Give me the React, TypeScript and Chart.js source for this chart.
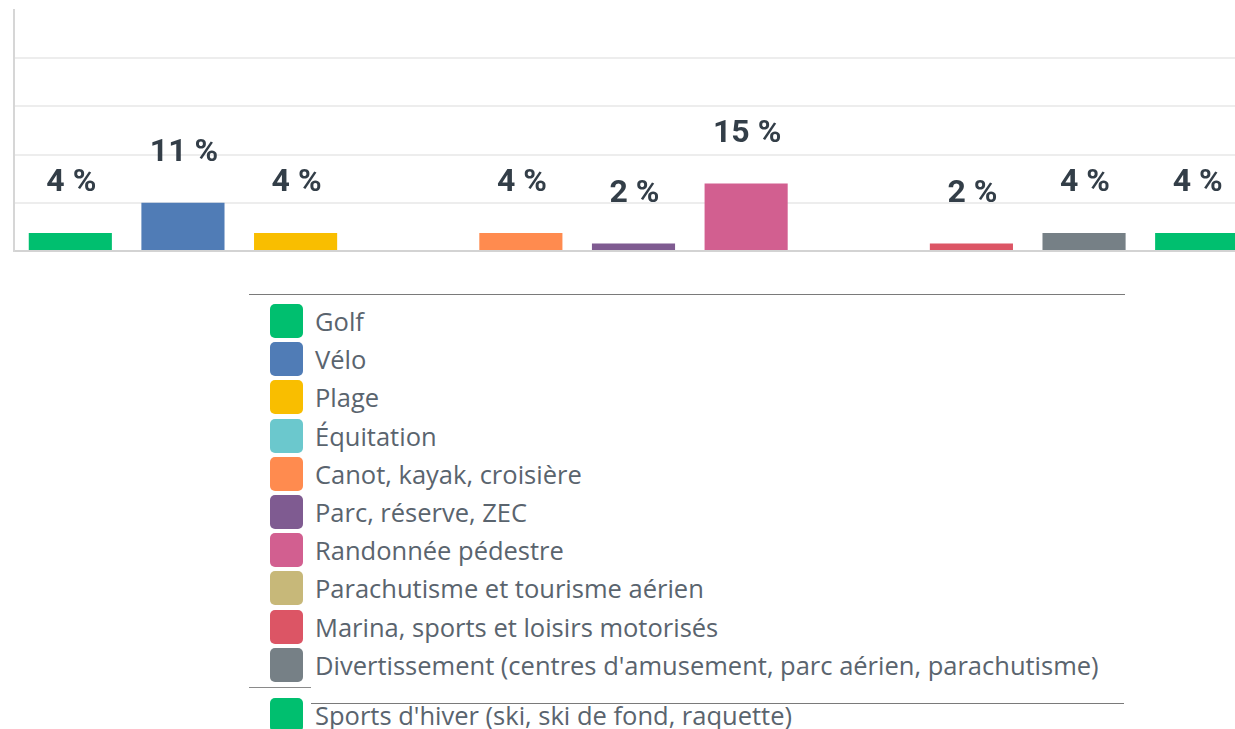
import React, { useEffect, useRef } from "react";
import { Chart, registerables } from "chart.js";

Chart.register(...registerables);

const categories = [
  "Golf",
  "Vélo",
  "Plage",
  "Équitation",
  "Canot, kayak, croisière",
  "Parc, réserve, ZEC",
  "Randonnée pédestre",
  "Parachutisme et tourisme aérien",
  "Marina, sports et loisirs motorisés",
  "Divertissement (centres d'amusement, parc aérien, parachutisme)",
  "Sports d'hiver (ski, ski de fond, raquette)",
];

const values = [4.1, 11, 4.1, 0, 4.1, 1.7, 15.4, 0, 1.7, 4.1, 4.1];

const colors = [
  "#00bf6f",
  "#507cb6",
  "#f9be00",
  "#6bc8cd",
  "#ff8b4f",
  "#7f5b91",
  "#d25f90",
  "#c7b879",
  "#dc5565",
  "#768086",
  "#00bf6f",
];

const yMax = 55;
const yStep = 11;

const formatLabel = (v: number) => `${Math.round(v)} %`;

const labelPlugin = {
  id: "barLabels",
  afterDatasetsDraw(chart: any) {
    const ctx = chart.ctx;
    const meta = chart.getDatasetMeta(0);
    ctx.save();
    ctx.font = "700 32px Roboto, 'Open Sans', sans-serif";
    ctx.fillStyle = "#333e48";
    ctx.textAlign = "center";
    ctx.textBaseline = "alphabetic";
    meta.data.forEach((bar: any, i: number) => {
      const v = values[i];
      if (!v) return;
      ctx.fillText(formatLabel(v), bar.x + 1, bar.y - 42);
    });
    ctx.restore();
  },
};

function BarChart() {
  const ref = useRef<HTMLCanvasElement>(null);
  useEffect(() => {
    if (!ref.current) return;
    const chart = new Chart(ref.current, {
      type: "bar",
      data: {
        labels: categories,
        datasets: [
          {
            data: values,
            backgroundColor: colors,
            borderWidth: 0,
            categoryPercentage: 0.82,
            barPercentage: 0.9,
          },
        ],
      },
      options: {
        animation: false,
        responsive: false,
        maintainAspectRatio: false,
        layout: { padding: { left: 14, right: 7, top: 10, bottom: 1 } },
        plugins: { legend: { display: false }, tooltip: { enabled: false } },
        scales: {
          x: {
            ticks: { display: false },
            grid: { display: false, drawTicks: false },
            border: { display: true, color: "#d3d3d3", width: 2 },
          },
          y: {
            min: 0,
            max: yMax,
            ticks: { display: false, stepSize: yStep },
            grid: {
              drawTicks: false,
              lineWidth: 2,
              color: (c: any) =>
                c.tick && (c.tick.value === 0 || c.tick.value === yMax)
                  ? "rgba(0,0,0,0)"
                  : "#ededed",
            },
            border: { display: true, color: "#d6d6d6", width: 2 },
          },
        },
      },
      plugins: [labelPlugin],
    });
    return () => chart.destroy();
  }, []);
  return <canvas ref={ref} width={1260} height={252} style={{ display: "block" }} />;
}

const legendFont = "'Open Sans', sans-serif";

function LegendRow({ label, color, top }: { label: string; color: string; top: number }) {
  return (
    <div style={{ position: "absolute", left: 270, top, height: 34, display: "flex", alignItems: "center", whiteSpace: "nowrap" }}>
      <div style={{ width: 33, height: 34, borderRadius: 5, background: color, flex: "none" }} />
      <span
        style={{
          marginLeft: 12,
          fontFamily: legendFont,
          fontSize: 25.5,
          color: "#5a646e",
          fontWeight: 400,
          display: "inline-block",
        }}
      >
        {label}
      </span>
    </div>
  );
}

export default function App() {
  const main = categories.slice(0, 10);
  const last = categories.length - 1;
  return (
    <div style={{ position: "fixed", left: 0, top: 0, width: 1235, height: 729, overflow: "hidden", background: "#fff" }}>
      <div style={{ position: "absolute", left: 0, top: 0 }}>
        <BarChart />
      </div>
      <div style={{ position: "absolute", left: 249, top: 294, width: 876, height: 0, borderTop: "1.5px solid #7a7a7a" }} />
      {main.map((c, i) => (
        <LegendRow key={c} label={c} color={colors[i]} top={304 + i * 38.2} />
      ))}
      <div style={{ position: "absolute", left: 249, top: 687, width: 62, height: 0, borderTop: "1.5px solid #8a8a8a" }} />
      <div style={{ position: "absolute", left: 311, top: 702.5, width: 813, height: 0, borderTop: "1.5px solid #7a7a7a" }} />
      <LegendRow label={categories[last]} color={colors[last]} top={698} />
    </div>
  );
}
